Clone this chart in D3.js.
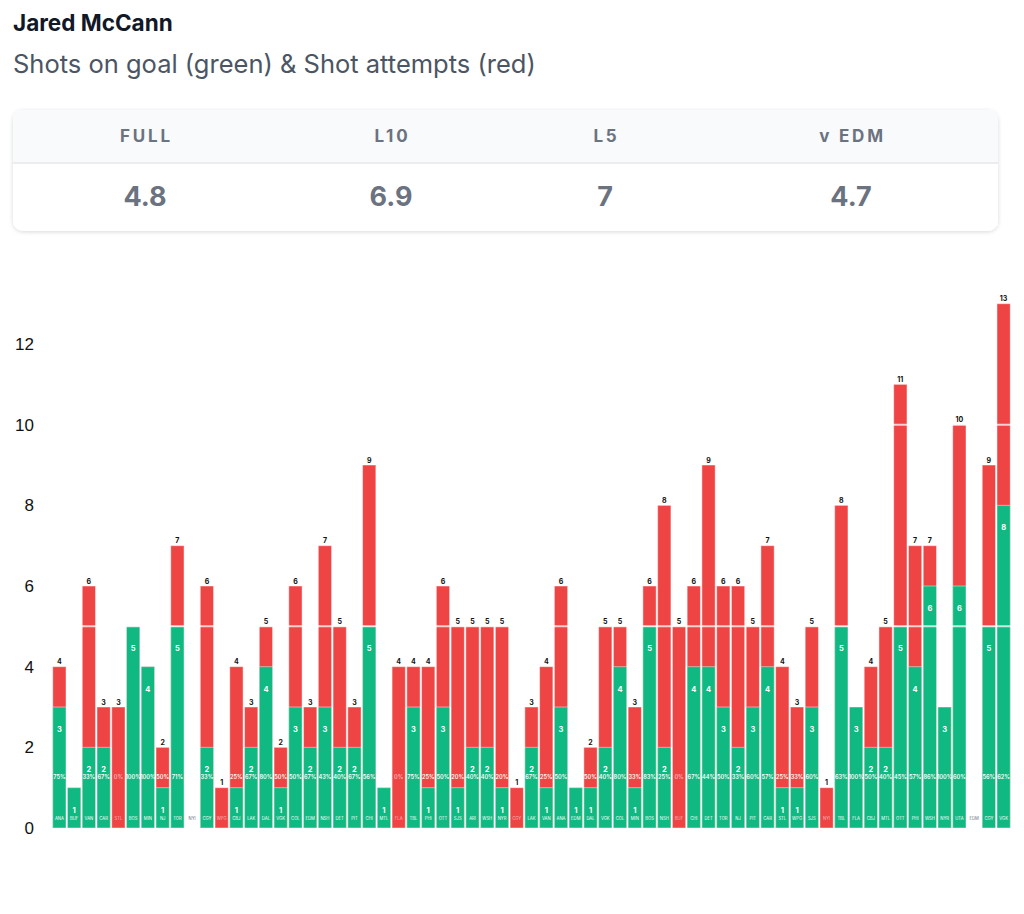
<!DOCTYPE html>
<html>
<head>
<meta charset="utf-8">
<script src="https://cdn.jsdelivr.net/npm/d3@7"></script>
<style>
  body { margin: 0; background: #fff; font-family: Inter, "Noto Sans", sans-serif; }
  svg { display: block; }
</style>
</head>
<body>
<svg id="chart" width="1024" height="914"></svg>
<script>
'use strict';

// Per game: shot attempts (red) and shots on goal (green)
var attempts = [4,1,6,3,3,5,4,2,7,0, 6,1,4,3,5,2,6,3,7,5, 3,9,1,4,4,4,6,5,5,5,
	5,1,3,4,6,1,2,5,5,3, 6,8,5,6,9,6,6,5,7,4, 3,5,1,8,3,4,5,11,7,7, 3,10,0,9,13];
var sog = [3,1,2,2,0,5,4,1,5,0, 2,0,1,2,4,1,3,2,3,2, 2,5,1,0,3,1,3,1,2,2,
	1,0,2,1,3,1,1,2,4,1, 5,2,0,4,4,3,2,3,4,1, 1,3,0,5,3,2,2,5,4,6, 3,6,0,5,8];
var opponents = ['ANA','BUF','VAN','CAR','STL','BOS','MIN','NJ','TOR','NYI',
	'CGY','WPG','CBJ','LAK','DAL','VGK','COL','EDM','NSH','DET',
	'PIT','CHI','MTL','FLA','TBL','PHI','OTT','SJS','ARI','WSH',
	'NYR','CGY','LAK','VAN','ANA','EDM','DAL','VGK','COL','MIN',
	'BOS','NSH','BUF','CHI','DET','TOR','NJ','PIT','CAR','STL',
	'WPG','SJS','NYI','TBL','FLA','CBJ','MTL','OTT','PHI','WSH',
	'NYR','UTA','EDM','CGY','VGK'];
var statLabels = ['FULL', 'L10', 'L5', 'v EDM'];
var statValues = ['4.8', '6.9', '7', '4.7'];
var yTicks = [0, 2, 4, 6, 8, 10, 12];
var guideLines = [5, 10];

var GREEN = '#10b981';
var RED = '#ef4444';

var svg = d3.select('#chart');

// Title block
svg.append('text')
	.attr('x', 13).attr('y', 31)
	.attr('font-size', 22.5).attr('font-weight', 700)
	.attr('fill', '#111827')
	.text('Jared McCann');
svg.append('text')
	.attr('x', 13).attr('y', 73)
	.attr('font-size', 25.5)
	.attr('fill', '#4b5563')
	.text('Shots on goal (green) & Shot attempts (red)');

// Summary card
var defs = svg.append('defs');
var shadow = defs.append('filter').attr('id', 'shadow')
	.attr('x', '-5%').attr('y', '-20%').attr('width', '110%').attr('height', '150%');
shadow.append('feDropShadow')
	.attr('dx', 0).attr('dy', 1).attr('stdDeviation', 2)
	.attr('flood-color', '#000').attr('flood-opacity', 0.15);
defs.append('clipPath').attr('id', 'cardClip')
	.append('rect').attr('x', 13).attr('y', 110).attr('width', 985).attr('height', 121).attr('rx', 10);

var card = svg.append('g');
card.append('rect')
	.attr('x', 13).attr('y', 110).attr('width', 985).attr('height', 121).attr('rx', 10)
	.attr('fill', '#fff').attr('filter', 'url(#shadow)');
card.append('rect')
	.attr('x', 13).attr('y', 110).attr('width', 985).attr('height', 53)
	.attr('fill', '#f9fafb').attr('clip-path', 'url(#cardClip)');
card.append('line')
	.attr('x1', 13).attr('x2', 998).attr('y1', 163).attr('y2', 163)
	.attr('stroke', '#e5e7eb').attr('stroke-width', 1.5);

var colCenters = [145, 391, 605, 851];
card.selectAll('text.head')
	.data(statLabels)
	.enter().append('text')
	.attr('class', 'head')
	.attr('x', function(d, i) { return colCenters[i] + 1.5; })
	.attr('y', 142)
	.attr('text-anchor', 'middle')
	.attr('font-size', 17).attr('font-weight', 700)
	.attr('letter-spacing', 2.8)
	.attr('fill', '#6b7280')
	.text(function(d) { return d; });
card.selectAll('text.val')
	.data(statValues)
	.enter().append('text')
	.attr('class', 'val')
	.attr('x', function(d, i) { return colCenters[i]; })
	.attr('y', 206)
	.attr('text-anchor', 'middle')
	.attr('font-size', 27).attr('font-weight', 700)
	.attr('fill', '#6b7280')
	.text(function(d) { return d; });

// Chart scales
var games = attempts.map(function(a, i) {
	return { i: i, att: a, sog: sog[i], opp: opponents[i] };
});

var x = d3.scaleBand()
	.domain(d3.range(games.length))
	.range([52, 1011])
	.paddingInner(0.1)
	.paddingOuter(0.05);
var y = d3.scaleLinear()
	.domain([0, 13])
	.range([828, 303.7]);

var yAxis = svg.append('g')
	.attr('transform', 'translate(34,0)')
	.call(d3.axisLeft(y).tickValues(yTicks).tickSize(0).tickPadding(0));
yAxis.select('.domain').remove();
yAxis.selectAll('text')
	.attr('font-family', '"Liberation Sans", Arial, sans-serif')
	.attr('font-size', 17)
	.attr('fill', '#111');

var plot = svg.append('g');

// Attempts (red) behind, shots on goal (green) in front
plot.selectAll('rect.att')
	.data(games.filter(function(d) { return d.att > 0; }))
	.enter().append('rect')
	.attr('class', 'att')
	.attr('x', function(d) { return x(d.i); })
	.attr('y', function(d) { return y(d.att); })
	.attr('width', x.bandwidth())
	.attr('height', function(d) { return y(0) - y(d.att); })
	.attr('fill', RED)
	.attr('stroke', 'rgba(255,255,255,0.45)');

plot.selectAll('rect.sog')
	.data(games.filter(function(d) { return d.sog > 0; }))
	.enter().append('rect')
	.attr('class', 'sog')
	.attr('x', function(d) { return x(d.i); })
	.attr('y', function(d) { return y(d.sog); })
	.attr('width', x.bandwidth())
	.attr('height', function(d) { return y(0) - y(d.sog); })
	.attr('fill', GREEN)
	.attr('stroke', 'rgba(255,255,255,0.45)');

// Light guide lines through the bars
plot.selectAll('line.guide')
	.data(guideLines)
	.enter().append('line')
	.attr('class', 'guide')
	.attr('x1', 52).attr('x2', 1011)
	.attr('y1', function(d) { return y(d); })
	.attr('y2', function(d) { return y(d); })
	.attr('stroke', '#fff').attr('stroke-opacity', 0.75)
	.attr('stroke-width', 2);

var cx = function(d) { return x(d.i) + x.bandwidth() / 2; };

// Attempt totals above the red bars
plot.selectAll('text.total')
	.data(games.filter(function(d) { return d.att > d.sog; }))
	.enter().append('text')
	.attr('class', 'total')
	.attr('x', cx)
	.attr('y', function(d) { return y(d.att) - 2.5; })
	.attr('text-anchor', 'middle')
	.attr('font-size', 7).attr('font-weight', 700)
	.attr('fill', '#111')
	.text(function(d) { return d.att; });

// Shots on goal near the top of the green bars
plot.selectAll('text.sogval')
	.data(games.filter(function(d) { return d.sog > 0; }))
	.enter().append('text')
	.attr('class', 'sogval')
	.attr('x', cx)
	.attr('y', function(d) { return y(d.sog) + 25; })
	.attr('text-anchor', 'middle')
	.attr('font-size', 7.5).attr('font-weight', 700)
	.attr('fill', '#fff')
	.text(function(d) { return d.sog; });

// Accuracy percentage on a fixed row (only where a bar is behind it)
plot.selectAll('text.pct')
	.data(games.filter(function(d) { return d.att > 1; }))
	.enter().append('text')
	.attr('class', 'pct')
	.attr('x', cx)
	.attr('y', 779)
	.attr('text-anchor', 'middle')
	.attr('font-size', 5.6).attr('font-weight', 600)
	.attr('fill', '#fff')
	.attr('fill-opacity', function(d) { return d.sog > 1 || (d.sog === 1 && d.att > 1) ? 1 : 0.6; })
	.text(function(d) { return Math.round(d.sog / d.att * 100) + '%'; });

// Opponent along the bottom
plot.selectAll('text.opp')
	.data(games)
	.enter().append('text')
	.attr('class', 'opp')
	.attr('x', cx)
	.attr('y', 819.5)
	.attr('text-anchor', 'middle')
	.attr('font-size', 4.2)
	.attr('fill', function(d) { return d.att > 0 ? '#fff' : '#6b7280'; })
	.attr('fill-opacity', function(d) { return d.att > 0 && d.sog === 0 ? 0.6 : 1; })
	.text(function(d) { return d.opp; });
</script>
</body>
</html>
